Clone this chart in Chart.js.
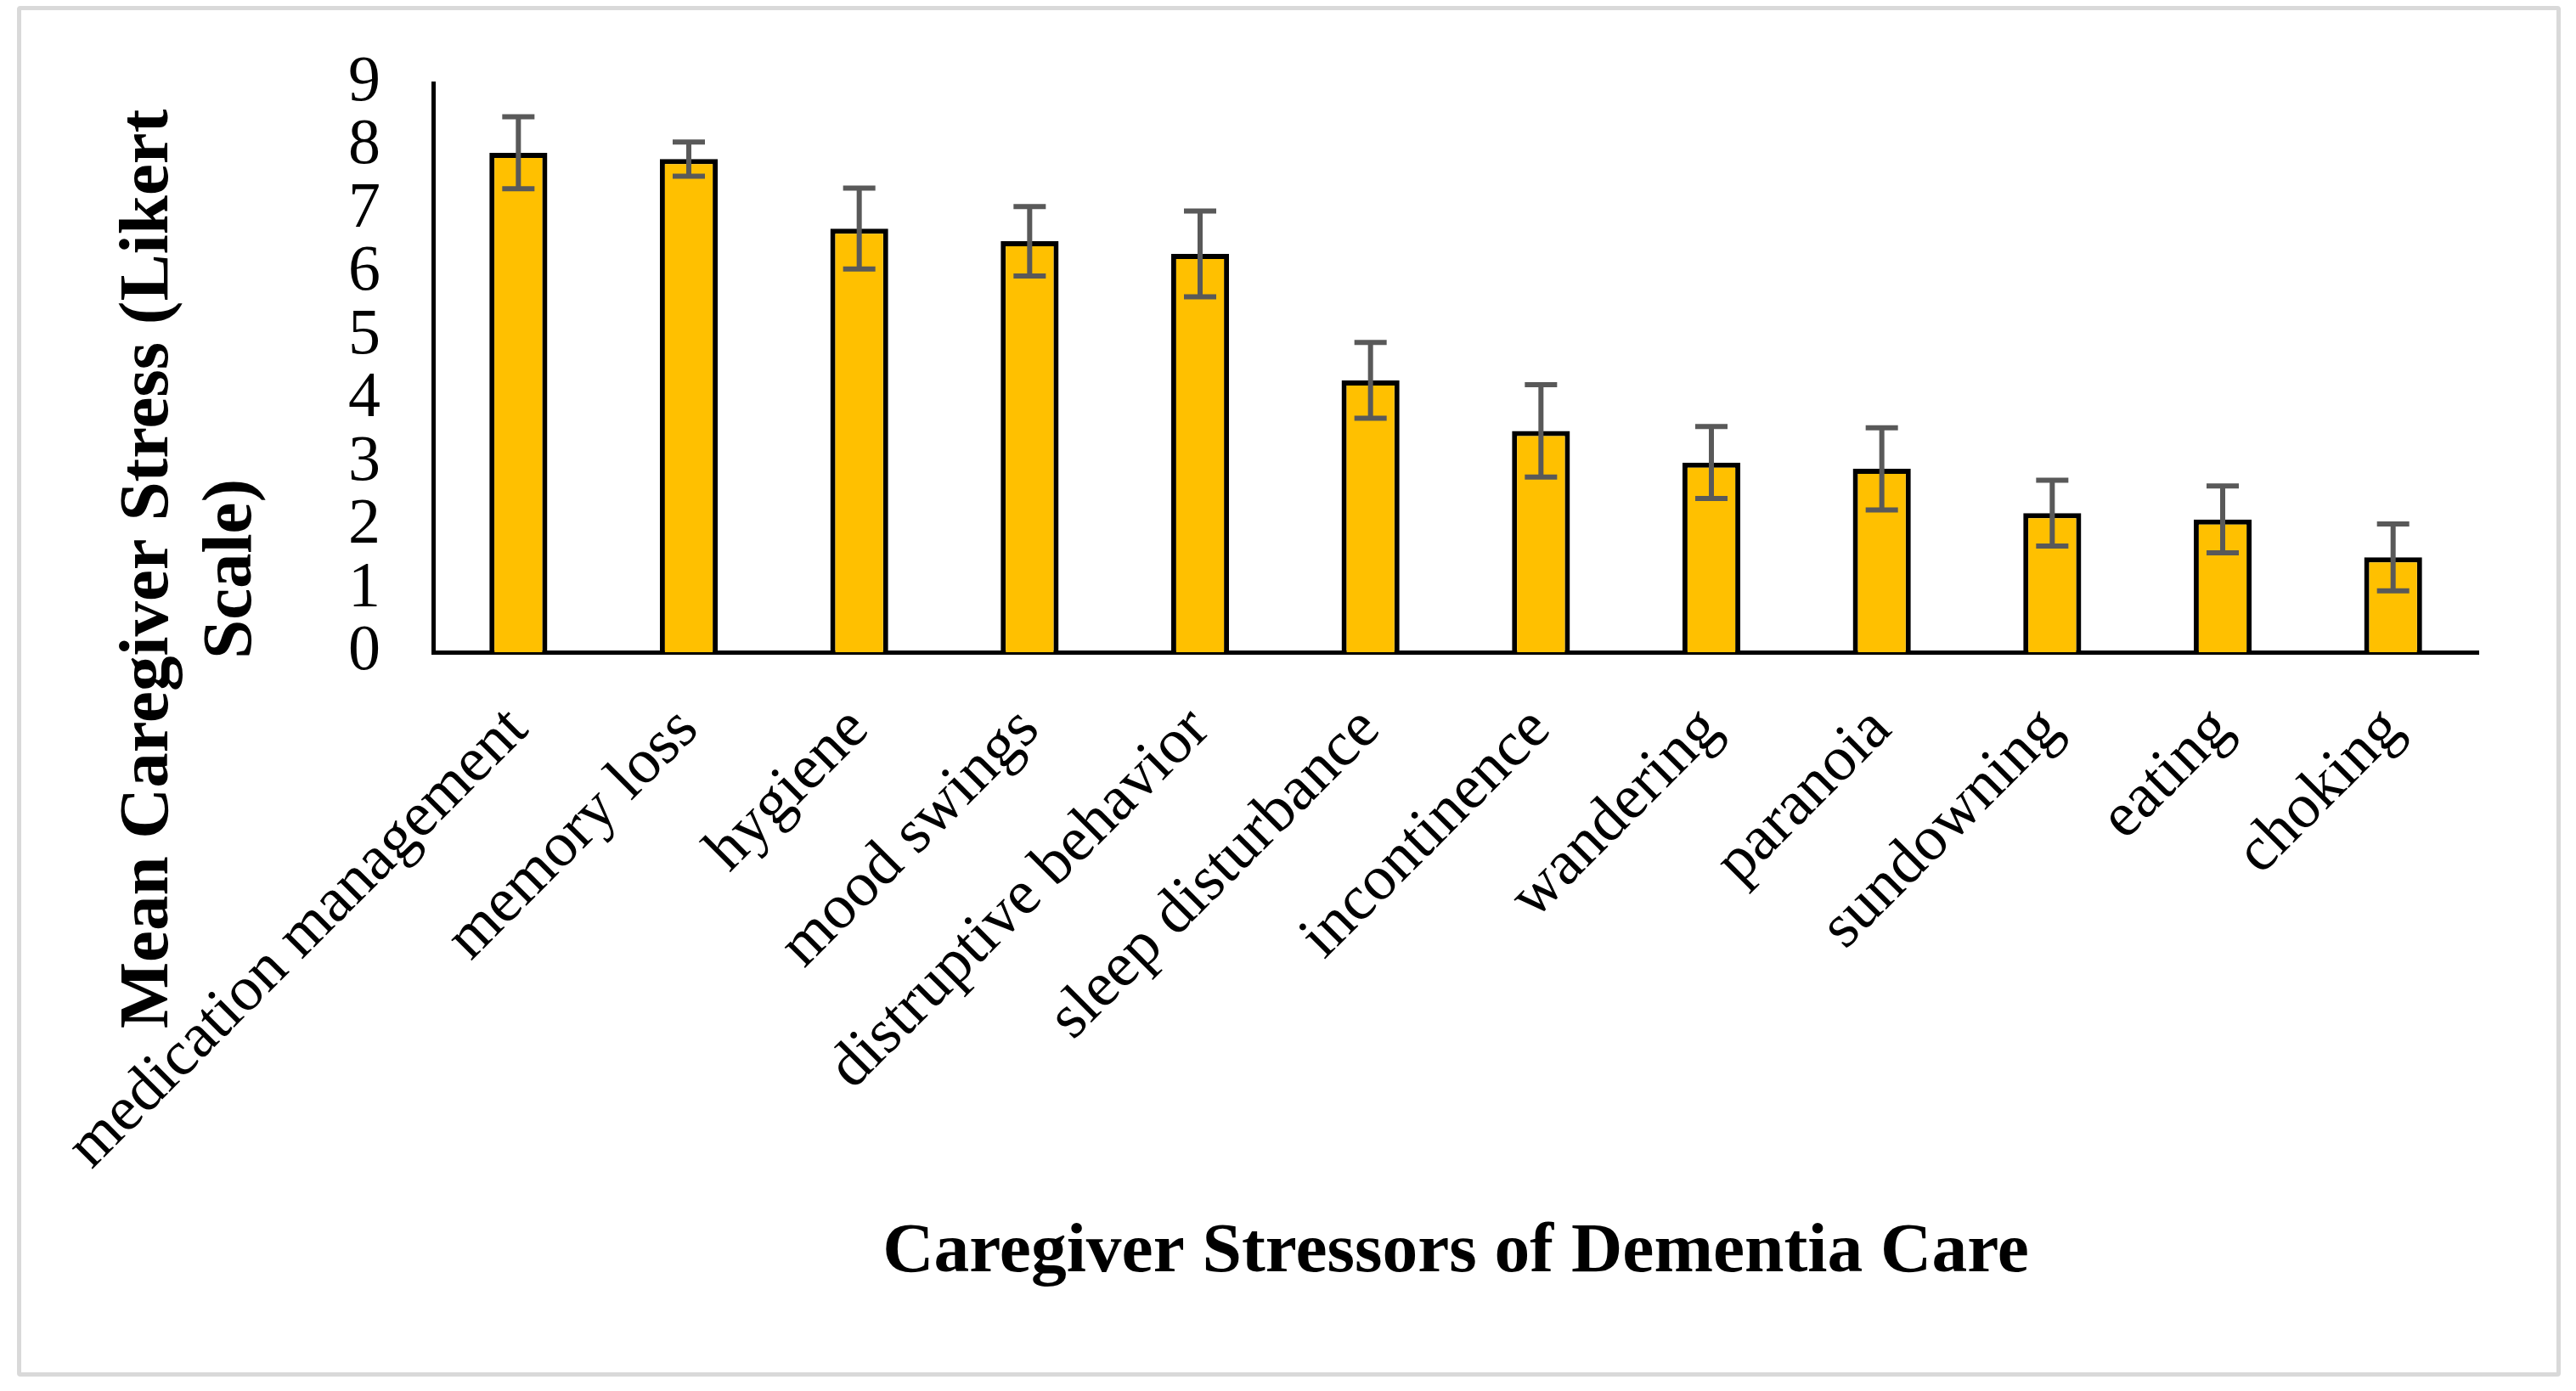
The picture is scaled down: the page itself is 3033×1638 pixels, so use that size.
<!DOCTYPE html>
<html>
<head>
<meta charset="utf-8">
<script src="https://cdn.jsdelivr.net/npm/chart.js@4.4.1/dist/chart.umd.min.js"></script>
<style>
  html, body { margin: 0; padding: 0; background: #fff; }
  #wrap { position: relative; width: 3033px; height: 1638px; }
  #frame { position: absolute; left: 20px; top: 7px; width: 2995px; height: 1614px; box-sizing: border-box; border: 5px solid #d9d9d9; border-radius: 4px; }
  canvas { position: absolute; left: 0; top: 0; }
</style>
</head>
<body>
<div id="wrap">
  <div id="frame"></div>
  <canvas id="stress" width="3033" height="1638"></canvas>
</div>
<script>
const stressors = ['medication management', 'memory loss', 'hygiene', 'mood swings', 'distruptive behavior',
    'sleep disturbance', 'incontinence', 'wandering', 'paranoia', 'sundowning', 'eating', 'choking'];
const meanStress = [7.9, 7.8, 6.7, 6.5, 6.3, 4.3, 3.5, 3.0, 2.9, 2.2, 2.1, 1.5];
const stressError = [0.57, 0.27, 0.64, 0.55, 0.68, 0.6, 0.73, 0.57, 0.65, 0.52, 0.53, 0.53];
const yMin = 0, yMax = 9, yStep = 1;
const xTitle = 'Caregiver Stressors of Dementia Care';
const yTitleLines = ['Mean Caregiver Stress (Likert', 'Scale)'];

// whiskers on top of each bar
const errorBars = {
    id: 'errorBars',
    afterDatasetsDraw(chart) {
        const ctx = chart.ctx;
        const y = chart.scales.y;
        ctx.save();
        ctx.strokeStyle = '#595959';
        ctx.lineWidth = 6;
        chart.getDatasetMeta(0).data.forEach((bar, i) => {
            const hi = y.getPixelForValue(meanStress[i] + stressError[i]);
            const lo = y.getPixelForValue(meanStress[i] - stressError[i]);
            ctx.beginPath();
            ctx.moveTo(bar.x, hi); ctx.lineTo(bar.x, lo);
            ctx.moveTo(bar.x - 19, hi); ctx.lineTo(bar.x + 19, hi);
            ctx.moveTo(bar.x - 19, lo); ctx.lineTo(bar.x + 19, lo);
            ctx.stroke();
        });
        ctx.restore();
    }
};

// y title sits lower than the axis middle in the original, so draw it by hand
const yTitle = {
    id: 'yTitle',
    afterDraw(chart) {
        const ctx = chart.ctx;
        ctx.save();
        ctx.translate(176, 670);
        ctx.rotate(-Math.PI / 2);
        ctx.font = 'bold 83px "Liberation Serif"';
        ctx.fillStyle = '#000';
        ctx.textAlign = 'center';
        ctx.textBaseline = 'middle';
        yTitleLines.forEach((t, i) => ctx.fillText(t, 0, i * 98));
        ctx.restore();
    }
};

new Chart(document.getElementById('stress'), {
    type: 'bar',
    data: {
        labels: stressors,
        datasets: [{
            data: meanStress,
            backgroundColor: '#FFC000',
            borderColor: '#000',
            borderWidth: 6,
            barPercentage: 0.34,
            categoryPercentage: 1
        }]
    },
    options: {
        responsive: false,
        animation: false,
        devicePixelRatio: 1,
        layout: { padding: { top: 98, right: 115, bottom: 0, left: 0 } },
        plugins: { legend: { display: false }, tooltip: { enabled: false } },
        scales: {
            x: {
                grid: { display: false, drawTicks: false },
                border: { display: true, color: '#000', width: 5 },
                ticks: {
                    color: '#000',
                    font: { family: 'Liberation Serif', size: 74.5 },
                    maxRotation: 45, minRotation: 45,
                    autoSkip: false,
                    padding: 48
                },
                title: {
                    display: true,
                    text: xTitle,
                    color: '#000',
                    font: { family: 'Liberation Serif', size: 83.5, weight: 'bold' },
                    padding: { top: 0, bottom: 112 }
                },
                afterFit(scale) { scale.height = 870; }
            },
            y: {
                min: yMin, max: yMax,
                grid: { display: false, drawTicks: false },
                border: { display: true, color: '#000', width: 5 },
                ticks: {
                    stepSize: yStep,
                    autoSkip: false,
                    color: '#000',
                    font: { family: 'Liberation Serif', size: 76 },
                    padding: 62
                },
                afterFit(scale) {
                    scale.width = 510;
                    scale.paddingTop = 0;
                    scale.paddingBottom = 0;
                }
            }
        }
    },
    plugins: [errorBars, yTitle]
});
</script>
</body>
</html>
